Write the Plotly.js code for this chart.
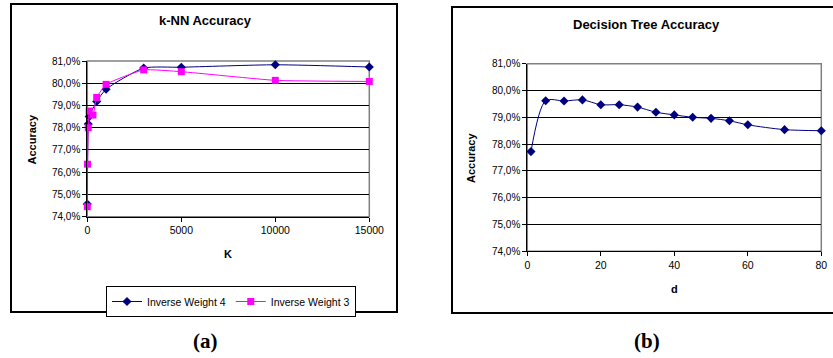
<!DOCTYPE html>
<html>
<head>
<meta charset="utf-8">
<script src="https://cdn.plot.ly/plotly-3.0.1.min.js"></script>
<style>html,body{margin:0;padding:0;background:#fff;}#chart{width:833px;height:358px;}</style>
</head>
<body>
<div id="chart"></div>
<script>
// k-NN accuracy (left chart)
const knnK_w4 = [1, 50, 100, 500, 1000, 3000, 5000, 10000, 15000];
const knnAcc_w4 = [0.7457, 0.7817, 0.7850, 0.7918, 0.7973, 0.8068, 0.8072, 0.8083, 0.8073];
const knnK_w3 = [1, 10, 50, 100, 300, 500, 1000, 3000, 5000, 10000, 15000];
const knnAcc_w3 = [0.7445, 0.7636, 0.7800, 0.7875, 0.7857, 0.7936, 0.7995, 0.8060, 0.8052, 0.8013, 0.8008];
// Decision tree accuracy (right chart)
const dtD = [1, 5, 10, 15, 20, 25, 30, 35, 40, 45, 50, 55, 60, 70, 80];
const dtAcc = [0.7772, 0.7962, 0.7961, 0.7965, 0.7947, 0.7947, 0.7938, 0.7919, 0.7909, 0.7900, 0.7896, 0.7887, 0.7872, 0.7854, 0.7850];
const yTicks = [0.74, 0.75, 0.76, 0.77, 0.78, 0.79, 0.80, 0.81];
const knnXTicks = [0, 5000, 10000, 15000];
const dtXTicks = [0, 20, 40, 60, 80];

const W = 833, H = 358;
const px = x => x / W;
const py = y => 1 - y / H;
const font = 'Liberation Sans, Arial, sans-serif';

const traces = [
  {x: knnK_w4, y: knnAcc_w4, xaxis: 'x', yaxis: 'y', name: 'Inverse Weight 4', mode: 'lines+markers',
   line: {color: '#000080', width: 1, shape: 'spline', smoothing: 0.6},
   marker: {symbol: 'diamond', size: 7, color: '#000080'}, cliponaxis: false},
  {x: knnK_w3, y: knnAcc_w3, xaxis: 'x', yaxis: 'y', name: 'Inverse Weight 3', mode: 'lines+markers',
   line: {color: '#FF00FF', width: 1, shape: 'spline', smoothing: 0.4},
   marker: {symbol: 'square', size: 7, color: '#FF00FF'}, cliponaxis: false},
  {x: dtD, y: dtAcc, xaxis: 'x2', yaxis: 'y2', name: 'Decision Tree', showlegend: false, mode: 'lines+markers',
   line: {color: '#000080', width: 1, shape: 'spline', smoothing: 0.8},
   marker: {symbol: 'diamond', size: 7, color: '#000080'}, cliponaxis: false}
];

const axY = {
  range: [0.74, 0.81], tickvals: yTicks, tickformat: '.1%',
  showgrid: true, gridcolor: '#000', gridwidth: 1,
  showline: true, linecolor: '#000', linewidth: 1,
  ticks: 'outside', ticklen: 4, tickcolor: '#000',
  tickfont: {family: font, size: 10, color: '#000'}, zeroline: false, fixedrange: true
};
const axX = {
  showgrid: false, showline: true, linecolor: '#000', linewidth: 1,
  ticks: 'outside', ticklen: 4, tickcolor: '#000', tickformat: 'd',
  tickfont: {family: font, size: 10.5, color: '#000'}, zeroline: false, fixedrange: true
};

function label(text, x, y, size, extra) {
  return Object.assign({text: text, x: px(x), y: py(y), xref: 'paper', yref: 'paper', showarrow: false,
    xanchor: 'center', yanchor: 'middle', font: {family: font, size: size, color: '#000'}}, extra || {});
}

const layout = {
  width: W, height: H,
  margin: {l: 0, r: 0, t: 0, b: 0},
  paper_bgcolor: '#fff', plot_bgcolor: '#fff',
  separators: ',.',
  showlegend: true,
  legend: {x: px(106), y: py(286), xanchor: 'left', yanchor: 'top', orientation: 'h',
    bordercolor: '#000', borderwidth: 1, bgcolor: '#fff',
    font: {family: font, size: 10.5, color: '#000'}, tracegroupgap: 0, itemwidth: 30},
  xaxis: Object.assign({}, axX, {domain: [px(87.3), px(369.3)], range: [0, 15000], tickvals: knnXTicks, anchor: 'y'}),
  yaxis: Object.assign({}, axY, {domain: [py(216.7), py(61)], anchor: 'x'}),
  xaxis2: Object.assign({}, axX, {domain: [px(527.3), px(821.3)], range: [0, 80], tickvals: dtXTicks, anchor: 'y2'}),
  yaxis2: Object.assign({}, axY, {domain: [py(251.3), py(63.7)], anchor: 'x2'}),
  shapes: [
    {type: 'rect', xref: 'paper', yref: 'paper', x0: px(11), x1: px(397), y0: py(312), y1: py(4), line: {color: '#000', width: 2}},
    {type: 'rect', xref: 'paper', yref: 'paper', x0: px(452), x1: px(840), y0: py(313), y1: py(7), line: {color: '#000', width: 2}},
    {type: 'rect', xref: 'x domain', yref: 'y domain', x0: 0, x1: 1, y0: 0, y1: 1, line: {color: '#808080', width: 1.5}, layer: 'below'},
    {type: 'rect', xref: 'x2 domain', yref: 'y2 domain', x0: 0, x1: 1, y0: 0, y1: 1, line: {color: '#808080', width: 1.5}, layer: 'below'}
  ],
  annotations: [
    label('<b>k-NN Accuracy</b>', 205, 21, 13),
    label('<b>Decision Tree Accuracy</b>', 646, 24, 13),
    label('<b>Accuracy</b>', 31.5, 139, 11, {textangle: -90}),
    label('<b>Accuracy</b>', 471, 158, 11, {textangle: -90}),
    label('<b>K</b>', 228, 254, 11),
    label('<b>d</b>', 674, 289, 11),
    label('<b>(a)</b>', 205, 341, 21, {font: {family: 'Liberation Serif, Times New Roman, serif', size: 21, color: '#000'}}),
    label('<b>(b)</b>', 647, 341, 21, {font: {family: 'Liberation Serif, Times New Roman, serif', size: 21, color: '#000'}})
  ]
};

Plotly.newPlot('chart', traces, layout, {staticPlot: true, displayModeBar: false});
</script>
</body>
</html>
